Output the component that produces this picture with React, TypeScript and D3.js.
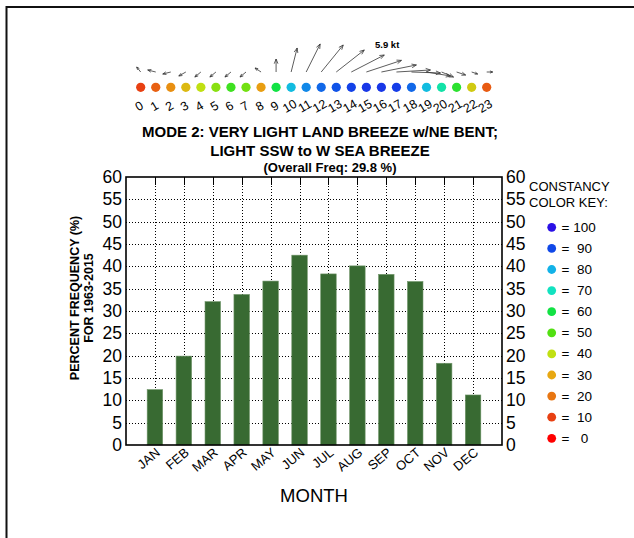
import React from "react";
import * as d3 from "d3";

// Monthly frequency of the mode (percent)
const months = ["JAN", "FEB", "MAR", "APR", "MAY", "JUN", "JUL", "AUG", "SEP", "OCT", "NOV", "DEC"];
const freqValues = [12.4, 19.9, 32.1, 33.7, 36.7, 42.5, 38.3, 40.1, 38.2, 36.6, 18.3, 11.2];
const yTicks = [0, 5, 10, 15, 20, 25, 30, 35, 40, 45, 50, 55, 60];

// Hourly mean wind vectors (kt, u = east, v = north) and constancy (%)
const hours = d3.range(24);
const windU = [-0.64, -1.28, -1.28, -1.12, -0.96, -0.96, -0.96, -0.96, -0.96, 0, 0.96, 2.23, 3.51, 4.47, 5.26, 5.6, 5.58, 5.42, 4.63, 3.83, 1.91, 1.44, 0.96, 0.96];
const windV = [0.8, 0.32, -0.32, -0.64, -0.8, -0.8, -0.8, -0.8, 0.64, 2.07, 3.83, 4.47, 4.31, 3.51, 2.71, 1.85, 1.12, 0.32, -0.16, -0.64, -0.8, -0.48, -0.32, 0];
const constancy = [10, 16, 25, 33, 40, 45, 53, 47, 28, 60, 78, 84, 87, 89, 91, 93, 93, 92, 87, 78, 68, 56, 36, 15];
const maxSpeedLabel = "5.9 kt";

// Constancy colour key
const keyValues = [100, 90, 80, 70, 60, 50, 40, 30, 20, 10, 0];
const keyLabels = ["= 100", "=  90", "=  80", "=  70", "=  60", "=  50", "=  40", "=  30", "=  20", "=  10", "=   0"];
const keyColors = ["#2a10e6", "#1048e8", "#12b2e8", "#12e2c0", "#12e244", "#52e012", "#c0e012", "#e8a812", "#e87612", "#e84012", "#ff0000"];

const titleLines = ["MODE 2: VERY LIGHT LAND BREEZE w/NE BENT;", "LIGHT SSW to W SEA BREEZE"];
const subTitle = "(Overall Freq: 29.8 %)";

const W = 634;
const H = 538;
const plot = { left: 126, right: 502, top: 177, bottom: 445 };
const barColor = "#386a32";
const font = "Arial, 'Liberation Sans', Helvetica, sans-serif";

export default function App() {
  const x = d3.scaleLinear().domain([0, 13]).range([plot.left, plot.right]);
  const y = d3.scaleLinear().domain([0, 60]).range([plot.bottom, plot.top]);
  const hx = d3.scaleLinear().domain([0, 23]).range([140.7, 486.7]);
  const pxPerKt = 6.27;
  const arrowBaseY = 72;
  const colorOf = d3
    .scaleLinear<string>()
    .domain(keyValues.slice().reverse())
    .range(keyColors.slice().reverse())
    .interpolate(d3.interpolateRgb);
  const barW = 15.5;

  const arrowPaths = hours.map((h) => {
    const x0 = hx(h);
    const y0 = arrowBaseY;
    const dx = windU[h] * pxPerKt;
    const dy = -windV[h] * pxPerKt;
    const x1 = x0 + dx;
    const y1 = y0 + dy;
    const len = Math.hypot(dx, dy);
    const ang = Math.atan2(dy, dx);
    const hl = Math.min(5, Math.max(3, len * 0.45));
    const spread = 0.38;
    const ax = x1 - hl * Math.cos(ang - spread);
    const ay = y1 - hl * Math.sin(ang - spread);
    const bx = x1 - hl * Math.cos(ang + spread);
    const by = y1 - hl * Math.sin(ang + spread);
    return `M${x0},${y0}L${x1},${y1}M${ax},${ay}L${x1},${y1}L${bx},${by}`;
  });

  return (
    <svg
      width={W}
      height={H}
      style={{ position: "absolute", left: 0, top: 0, background: "#fff" }}
      fontFamily={font}
    >
      <rect x={0} y={0} width={W} height={H} fill="#fff" />
      {/* outer frame */}
      <path d={`M6.5,${H}V7H${W}`} fill="none" stroke="#111" strokeWidth={2} />

      {/* hourly wind vectors */}
      <g>
        {arrowPaths.map((d, i) => (
          <path key={i} d={d} fill="none" stroke="#333" strokeWidth={0.8} />
        ))}
        <text x={375} y={48} fontSize={9.5} fontWeight="bold" fill="#000">
          {maxSpeedLabel}
        </text>
        {hours.map((h) => (
          <circle key={h} cx={hx(h)} cy={87.3} r={4.6} fill={colorOf(constancy[h])} />
        ))}
        {hours.map((h) => (
          <text
            key={h}
            transform={`translate(${hx(h) - 1},${107}) rotate(-30)`}
            textAnchor="middle"
            dominantBaseline="middle"
            fontSize={12.5}
            fill="#000"
          >
            {h}
          </text>
        ))}
      </g>

      {/* titles */}
      {titleLines.map((t, i) => (
        <text key={i} x={320} y={137 + i * 18.5} textAnchor="middle" fontSize={15} fontWeight="bold">
          {t}
        </text>
      ))}
      <text x={330} y={172} textAnchor="middle" fontSize={13} fontWeight="bold">
        {subTitle}
      </text>

      {/* grid */}
      <g stroke="#000" strokeWidth={1} strokeDasharray="1,2">
        {yTicks
          .filter((t) => t > 0 && t < 60)
          .map((t) => (
            <line key={t} x1={plot.left} x2={plot.right} y1={Math.round(y(t)) + 0.5} y2={Math.round(y(t)) + 0.5} />
          ))}
        {months.map((m, i) => (
          <line key={m} x1={Math.round(x(i + 1)) + 0.5} x2={Math.round(x(i + 1)) + 0.5} y1={plot.top} y2={plot.bottom} />
        ))}
      </g>
      {/* top ticks */}
      <g stroke="#000" strokeWidth={1}>
        {months.map((m, i) => (
          <line key={m} x1={Math.round(x(i + 1)) + 0.5} x2={Math.round(x(i + 1)) + 0.5} y1={plot.top} y2={plot.top + 8} />
        ))}
      </g>

      {/* bars */}
      {freqValues.map((v, i) => (
        <rect
          key={i}
          x={x(i + 1) - barW / 2}
          y={y(v)}
          width={barW}
          height={y(0) - y(v)}
          fill={barColor}
          stroke="#6f9468"
          strokeWidth={0.6}
        />
      ))}

      {/* plot frame */}
      <rect
        x={plot.left}
        y={plot.top}
        width={plot.right - plot.left}
        height={plot.bottom - plot.top}
        fill="none"
        stroke="#000"
        strokeWidth={1.6}
      />

      {/* y tick labels, both sides */}
      {yTicks.map((t) => (
        <g key={t} fontSize={17.5} fill="#000">
          <text x={plot.left - 4} y={y(t)} textAnchor="end" dominantBaseline="central">
            {t}
          </text>
          <text x={plot.right + 4} y={y(t)} textAnchor="start" dominantBaseline="central">
            {t}
          </text>
        </g>
      ))}

      {/* month labels */}
      {months.map((m, i) => (
        <text
          key={m}
          transform={`translate(${x(i + 1) + 6},${454}) rotate(-40)`}
          textAnchor="end"
          fontSize={13}
          fill="#000"
        >
          {m}
        </text>
      ))}
      <text x={(plot.left + plot.right) / 2} y={502} textAnchor="middle" fontSize={18.5}>
        MONTH
      </text>

      {/* y axis title */}
      <g transform="translate(0,298)">
        <text transform="translate(79,0) rotate(-90)" textAnchor="middle" fontSize={12.5} fontWeight="bold">
          PERCENT FREQUENCY (%)
        </text>
        <text transform="translate(93,0) rotate(-90)" textAnchor="middle" fontSize={12.5} fontWeight="bold">
          FOR 1963-2015
        </text>
      </g>

      {/* constancy colour key */}
      <text x={529} y={191} fontSize={13}>CONSTANCY</text>
      <text x={529} y={207} fontSize={13}>COLOR KEY:</text>
      {keyValues.map((k, i) => (
        <g key={k}>
          <circle cx={551.7} cy={227.3 + i * 21.1} r={4.4} fill={keyColors[i]} />
          <text x={561.5} y={227.3 + i * 21.1} dominantBaseline="central" fontSize={13.5} style={{ whiteSpace: "pre" }}>
            {keyLabels[i]}
          </text>
        </g>
      ))}
    </svg>
  );
}
